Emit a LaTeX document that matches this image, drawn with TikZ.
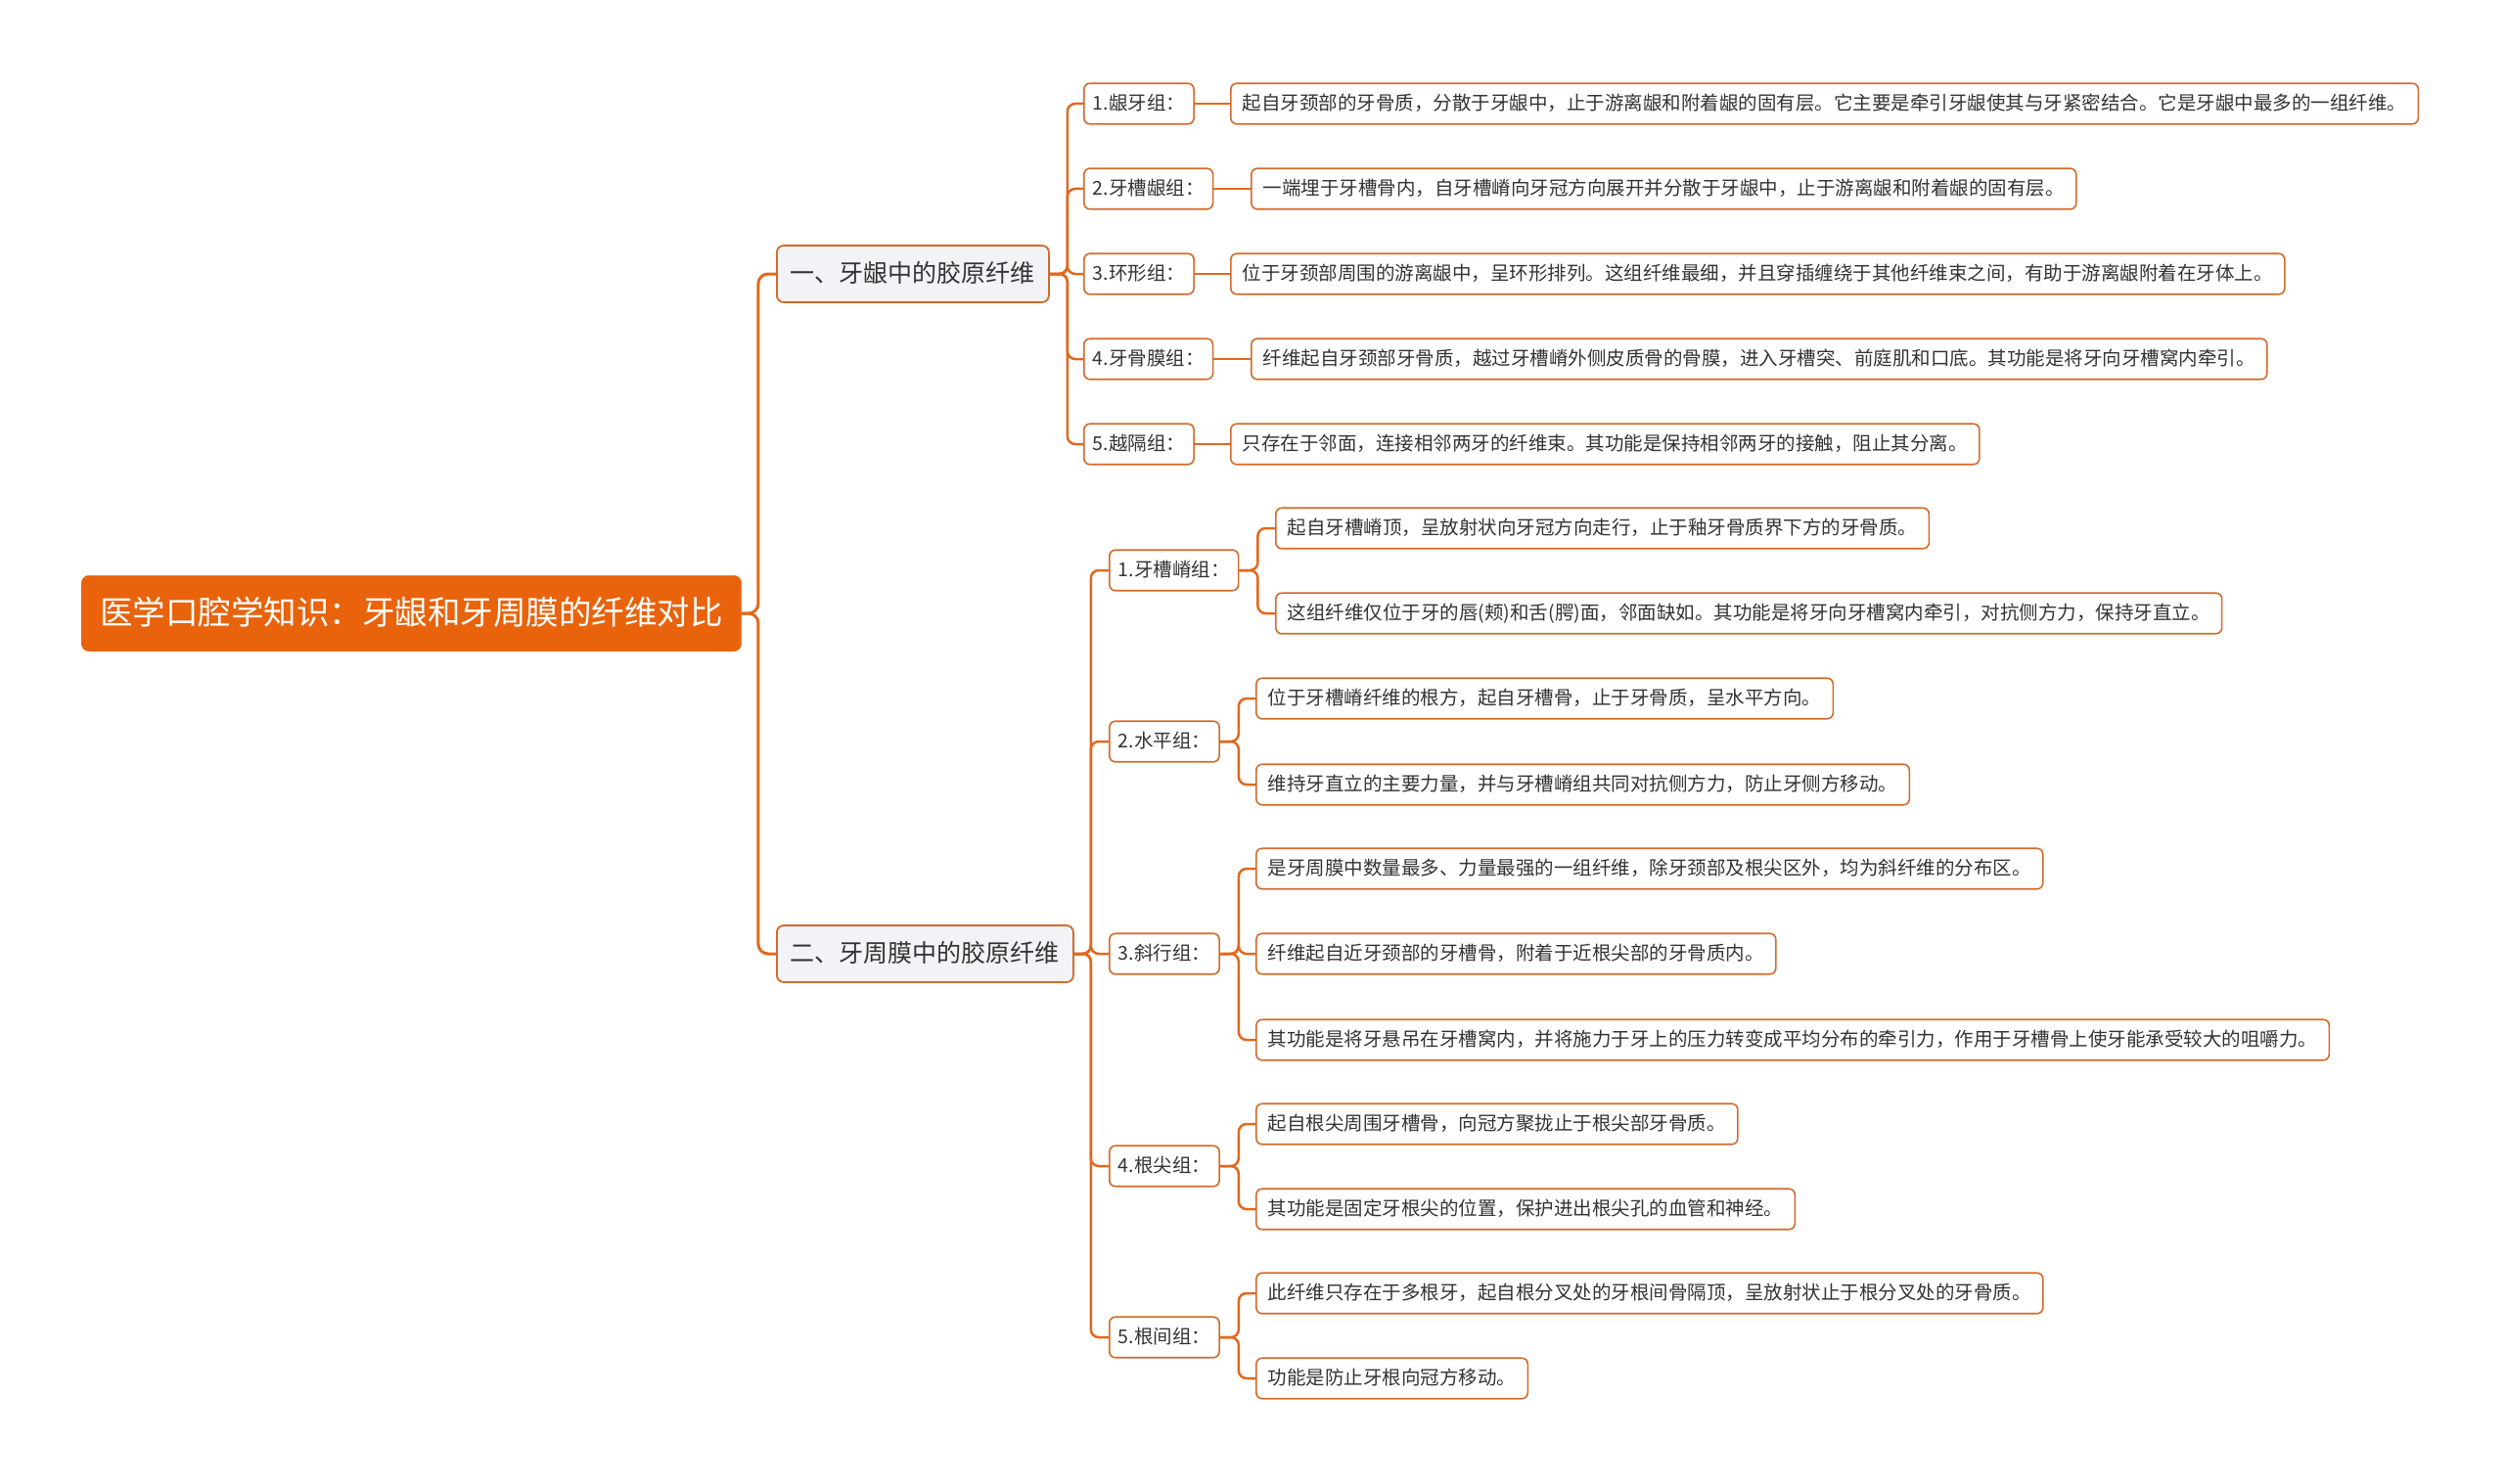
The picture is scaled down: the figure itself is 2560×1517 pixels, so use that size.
\documentclass[tikz,border=0pt]{standalone}
\usepackage{fontspec}
\setmainfont{Noto Sans CJK SC}
\definecolor{rootorange}{HTML}{E8630C}
\definecolor{linkorange}{HTML}{E0691E}
\definecolor{boxline}{HTML}{D26A2A}
\definecolor{topicfill}{HTML}{F1F3F6}
\definecolor{leaftext}{HTML}{333333}
\tikzset{
  rootbox/.style={draw=rootorange, fill=rootorange, text=white, rounded corners=8pt, anchor=west,
    font=\fontsize{33.5}{40}\selectfont, inner xsep=19pt, inner ysep=22pt, text height=28.1pt, text depth=5.4pt},
  topicbox/.style={draw=boxline, fill=topicfill, text=leaftext, rounded corners=7pt, line width=1.8pt, anchor=west,
    font=\fontsize{25}{30}\selectfont, inner xsep=14pt, inner ysep=16.5pt, text height=21pt, text depth=4pt},
  groupbox/.style={draw=boxline, fill=white, text=leaftext, rounded corners=6pt, line width=1.6pt, anchor=west,
    font=\fontsize{19.5}{24}\selectfont, inner xsep=9pt, inner ysep=11pt, text height=16.4pt, text depth=3.1pt},
  leafbox/.style={groupbox, inner xsep=12pt},
  link/.style={draw=linkorange, line width=3pt, rounded corners=10pt},
  sublink/.style={draw=linkorange, line width=2.5pt, rounded corners=8pt},
}
\begin{document}
\begin{tikzpicture}[x=1pt,y=-1pt]
  \useasboundingbox (0,0) rectangle (2560,1517);
  \node[rootbox] (root) at (83,627) {医学口腔学知识：牙龈和牙周膜的纤维对比};
  \node[topicbox] (gum) at (793,280) {一、牙龈中的胶原纤维};
  \node[topicbox] (pdl) at (793,975) {二、牙周膜中的胶原纤维};
  \draw[link] (root.east) -- ++(17,0) |- (gum.west);
  \draw[link] (root.east) -- ++(17,0) |- (pdl.west);
  % fibres of the gingiva
  \foreach \y/\lab/\x/\txt [count=\i] in {
      106/{1.龈牙组：}/1257/{起自牙颈部的牙骨质，分散于牙龈中，止于游离龈和附着龈的固有层。它主要是牵引牙龈使其与牙紧密结合。它是牙龈中最多的一组纤维。},
      193/{2.牙槽龈组：}/1278/{一端埋于牙槽骨内，自牙槽嵴向牙冠方向展开并分散于牙龈中，止于游离龈和附着龈的固有层。},
      280/{3.环形组：}/1257/{位于牙颈部周围的游离龈中，呈环形排列。这组纤维最细，并且穿插缠绕于其他纤维束之间，有助于游离龈附着在牙体上。},
      367/{4.牙骨膜组：}/1278/{纤维起自牙颈部牙骨质，越过牙槽嵴外侧皮质骨的骨膜，进入牙槽突、前庭肌和口底。其功能是将牙向牙槽窝内牵引。},
      454/{5.越隔组：}/1257/{只存在于邻面，连接相邻两牙的纤维束。其功能是保持相邻两牙的接触，阻止其分离。}} {
    \node[groupbox] (g\i) at (1107,\y) {\lab};
    \node[leafbox] (gl\i) at (\x,\y) {\txt};
    \draw[sublink] (gum.east) -- ++(18,0) |- (g\i.west);
    \draw[sublink] (g\i.east) -- (gl\i.west);
  }
  % fibres of the periodontal ligament
  \foreach \y/\lab [count=\i] in {583/{1.牙槽嵴组：}, 758/{2.水平组：}, 975/{3.斜行组：}, 1192/{4.根尖组：}, 1367/{5.根间组：}} {
    \node[groupbox] (p\i) at (1133,\y) {\lab};
    \draw[sublink] (pdl.east) -- ++(17,0) |- (p\i.west);
  }
  \foreach \up/\x/\y/\txt [count=\j] in {
      1/1303/540/{起自牙槽嵴顶，呈放射状向牙冠方向走行，止于釉牙骨质界下方的牙骨质。},
      1/1303/627/{这组纤维仅位于牙的唇(颊)和舌(腭)面，邻面缺如。其功能是将牙向牙槽窝内牵引，对抗侧方力，保持牙直立。},
      2/1283/714/{位于牙槽嵴纤维的根方，起自牙槽骨，止于牙骨质，呈水平方向。},
      2/1283/802/{维持牙直立的主要力量，并与牙槽嵴组共同对抗侧方力，防止牙侧方移动。},
      3/1283/888/{是牙周膜中数量最多、力量最强的一组纤维，除牙颈部及根尖区外，均为斜纤维的分布区。},
      3/1283/975/{纤维起自近牙颈部的牙槽骨，附着于近根尖部的牙骨质内。},
      3/1283/1063/{其功能是将牙悬吊在牙槽窝内，并将施力于牙上的压力转变成平均分布的牵引力，作用于牙槽骨上使牙能承受较大的咀嚼力。},
      4/1283/1149/{起自根尖周围牙槽骨，向冠方聚拢止于根尖部牙骨质。},
      4/1283/1236/{其功能是固定牙根尖的位置，保护进出根尖孔的血管和神经。},
      5/1283/1322/{此纤维只存在于多根牙，起自根分叉处的牙根间骨隔顶，呈放射状止于根分叉处的牙骨质。},
      5/1283/1409/{功能是防止牙根向冠方移动。}} {
    \node[leafbox] (pl\j) at (\x,\y) {\txt};
    \draw[sublink] (p\up.east) -- ++(19,0) |- (pl\j.west);
  }
\end{tikzpicture}
\end{document}
